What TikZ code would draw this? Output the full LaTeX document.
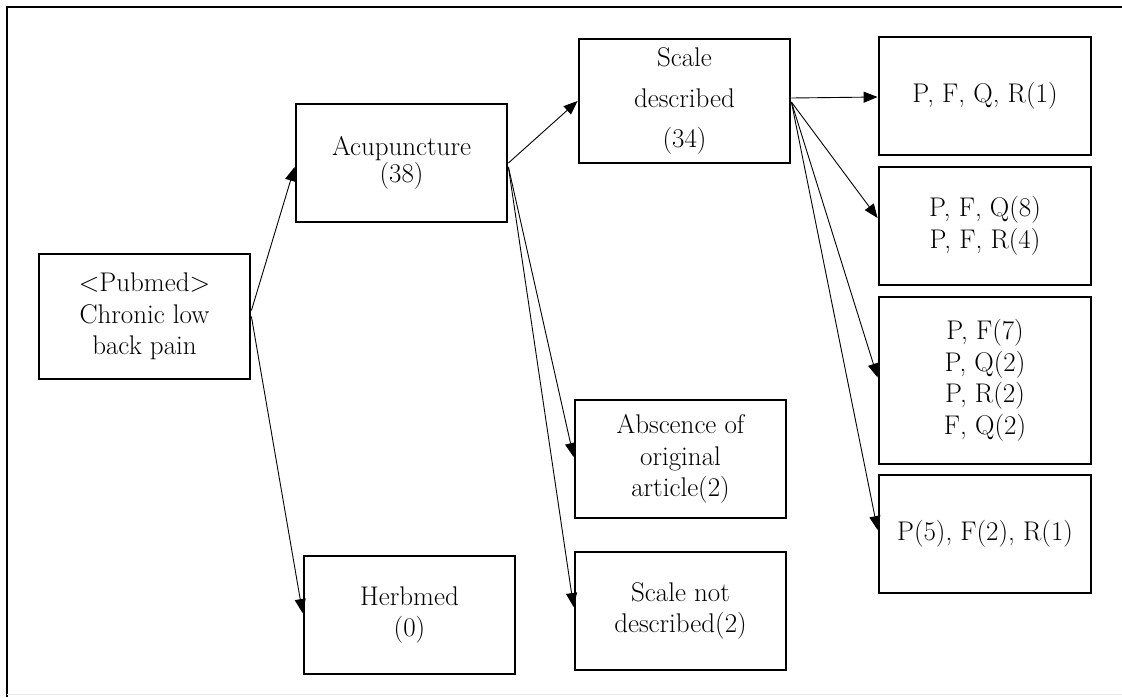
\documentclass[tikz,border=0pt]{standalone}
\usetikzlibrary{positioning}
\usetikzlibrary{arrows,arrows.meta}

\begin{document}
\begin{tikzpicture}[x=1pt, y=-1pt, >={Triangle[length=14pt,width=11pt]}]

	\tikzset{box/.style={draw, rectangle, line width=2.8pt, minimum width=211pt, minimum height=118pt, align=center, inner sep=2pt, font=\fontsize{27}{31.5}\selectfont}};
	\tikzset{link/.style={->, line width=0.9pt}};

	\def\cx{985};

	\useasboundingbox (0,0) rectangle (1122,697);
	\draw[line width=2pt] (1122,7) -- (7,7) -- (7,697);
	\draw[black!8, line width=1pt] (7,694.5) -- (1122,694.5);

	\node[box, minimum height=125pt] (pub) at (144.5,316.5) {\textless Pubmed\textgreater\\Chronic low\\back pain};
	\node[box] (acu) at (401.5,163) {Acupuncture\\[-4pt](38)};
	\node[box] (herb) at (409.5,615) {Herbmed\\(0)};
	\node[box, minimum height=124pt] (sd) at (684.5,101) {Scale\\[9pt]described\\[9pt](34)};
	\node[box] (ab) at (680.5,459) {Abscence of\\original\\article(2)};
	\node[box] (snd) at (680.5,611) {Scale not\\described(2)};

	\foreach \i/\y/\h/\txt in {1/96/118/{P, F, Q, R(1)}, 2/226/118/{P, F, Q(8)\\P, F, R(4)}, 3/380.5/167/{P, F(7)\\P, Q(2)\\P, R(2)\\F, Q(2)}, 4/534/118/{P(5), F(2), R(1)}} {
		\node[box, minimum width=212pt, minimum height=\h pt] (r\i) at (\cx,\y) {\txt};
	}

	\draw[link] ([yshift=6pt]pub.east) -- ([yshift=-4pt]acu.west);
	\draw[link] (pub.east) -- ([yshift=2pt]herb.west);

	\draw[link] (acu.east) -- (sd.west);
	\draw[link] ([yshift=-4pt]acu.east) -- ([yshift=2pt]ab.west);
	\draw[link] ([yshift=-4pt]acu.east) -- ([yshift=4pt]snd.west);

	\draw[link] ([yshift=3pt]sd.east) -- ([yshift=-1pt]r1.west);
	\draw[link] ([yshift=-1pt]sd.east) -- ([yshift=8pt]r2.west);
	\draw[link] ([yshift=-1pt]sd.east) -- ([yshift=3pt]r3.west);
	\draw[link] ([yshift=-1pt]sd.east) -- ([yshift=4pt]r4.west);

\end{tikzpicture}
\end{document}
